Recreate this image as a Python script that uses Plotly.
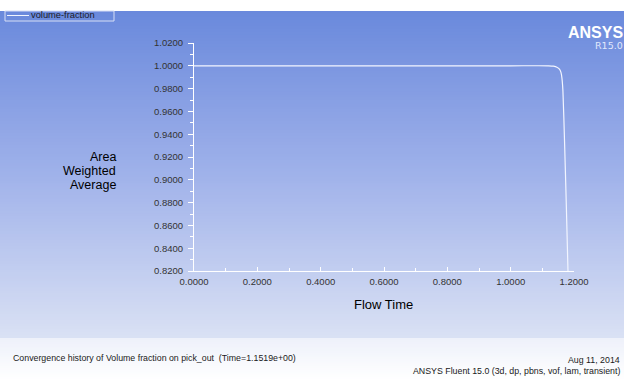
import plotly.graph_objects as go

# Volume-fraction history on pick_out
flow_time = [0.0, 0.50, 1.00, 1.120, 1.135, 1.146, 1.154, 1.159, 1.162, 1.165, 1.170, 1.176, 1.181, 1.185]
volume_fraction = [1.0, 1.0, 1.0, 1.0, 0.9997, 0.9988, 0.997, 0.994, 0.989, 0.978, 0.935, 0.875, 0.820, 0.780]

y_ticks = [0.82, 0.84, 0.86, 0.88, 0.90, 0.92, 0.94, 0.96, 0.98, 1.00, 1.02]
x_ticks = [0.0, 0.2, 0.4, 0.6, 0.8, 1.0, 1.2]

W, H = 624, 381


def px(x):
    return x / W


def py(y):
    return 1 - y / H


def lerp(c1, c2, t):
    return tuple(round(a + (b - a) * t) for a, b in zip(c1, c2))


fig = go.Figure()
fig.add_trace(go.Scatter(
    x=flow_time, y=volume_fraction, mode="lines",
    line=dict(color="rgb(242,245,255)", width=1.2, shape="spline", smoothing=0.6),
    showlegend=False, hoverinfo="skip",
))

shapes = []
# blue gradient backdrop
stops = [(11, (106, 137, 220)), (175, (160, 178, 234)), (338, (218, 225, 244))]
n = 110
y0, y1 = 11, 338
for i in range(n):
    ya = y0 + (y1 - y0) * i / n
    yb = y0 + (y1 - y0) * (i + 1) / n
    ym = (ya + yb) / 2
    if ym <= stops[1][0]:
        c = lerp(stops[0][1], stops[1][1], (ym - stops[0][0]) / (stops[1][0] - stops[0][0]))
    else:
        c = lerp(stops[1][1], stops[2][1], (ym - stops[1][0]) / (stops[2][0] - stops[1][0]))
    shapes.append(dict(type="rect", xref="paper", yref="paper", x0=-0.01, x1=1.01,
                       y0=py(min(yb + 1.5, 338)), y1=py(ya), fillcolor="rgb(%d,%d,%d)" % c,
                       line=dict(width=0), layer="below"))
# pale footer band
m = 20
for i in range(m):
    ya = 338 + (381 - 338) * i / m
    yb = 338 + (381 - 338) * (i + 1) / m
    c = lerp((238, 241, 250), (255, 255, 255), i / (m - 1))
    shapes.append(dict(type="rect", xref="paper", yref="paper", x0=-0.01, x1=1.01,
                       y0=py(yb + 1.5), y1=py(ya), fillcolor="rgb(%d,%d,%d)" % c,
                       line=dict(width=0), layer="below"))
# legend box
shapes.append(dict(type="rect", xref="paper", yref="paper", x0=px(5), x1=px(114),
                   y0=py(21), y1=py(11), fillcolor="rgba(0,0,0,0)",
                   line=dict(color="rgb(215,222,245)", width=1)))
shapes.append(dict(type="line", xref="paper", yref="paper", x0=px(7), x1=px(29),
                   y0=py(15.5), y1=py(15.5), line=dict(color="rgb(240,244,255)", width=1)))


def note(text, x, y, xanchor, size, color, family="Arial, Liberation Sans", weight="normal",
         align="left"):
    return dict(text=text, x=px(x), y=py(y), xref="paper", yref="paper",
                xanchor=xanchor, yanchor="middle", showarrow=False, align=align,
                font=dict(family=family, size=size, color=color, weight=weight))


annotations = [
    note("volume-fraction", 29, 15.5, "left", 9.3, "#1a1a2a"),
    note("ANSYS", 625, 33, "right", 16, "white", family="Liberation Sans, Arial", weight="bold"),
    note("R15.0", 625, 46, "right", 9.5, "rgb(225,232,252)", family="DejaVu Sans"),
    note("Area", 118, 157.5, "right", 12.5, "black"),
    note("Weighted", 118, 171, "right", 12.5, "black"),
    note("Average", 118, 184.5, "right", 12.5, "black"),
    note("Flow Time", 383, 304, "center", 13, "black"),
    note("Convergence history of Volume fraction on pick_out  (Time=1.1519e+00)",
         11, 358, "left", 8.8, "#1a1a1a"),
    note("Aug 11, 2014", 622, 360, "right", 8.8, "#1a1a1a"),
    note("ANSYS Fluent 15.0 (3d, dp, pbns, vof, lam, transient)", 622, 371, "right", 8.8, "#1a1a1a"),
]

tick_font = dict(family="Arial, Liberation Sans", size=9.5, color="#333333")

fig.update_layout(
    width=W, height=H,
    margin=dict(l=0, r=0, t=0, b=0, pad=0, autoexpand=False),
    paper_bgcolor="white",
    plot_bgcolor="rgba(0,0,0,0)",
    shapes=shapes,
    annotations=annotations,
    showlegend=False,
    xaxis=dict(
        domain=[px(194), px(574)], range=[0, 1.2],
        tickvals=x_ticks, tickformat=".4f", tickfont=tick_font,
        ticks="inside", ticklen=4, tickcolor="white",
        minor=dict(dtick=0.1, ticks="inside", ticklen=3, tickcolor="white"),
        showline=True, linecolor="white", linewidth=1,
        showgrid=False, zeroline=False, fixedrange=True,
        ticklabelstandoff=2,
    ),
    yaxis=dict(
        domain=[py(271), py(43)], range=[0.82, 1.02],
        tickvals=y_ticks, tickformat=".4f", tickfont=tick_font,
        ticks="outside", ticklen=5, tickcolor="white",
        minor=dict(dtick=0.01, ticks="outside", ticklen=3, tickcolor="white"),
        showline=True, linecolor="white", linewidth=1,
        showgrid=False, zeroline=False, fixedrange=True,
        ticklabelstandoff=3,
    ),
)

fig.write_html("out.html")
